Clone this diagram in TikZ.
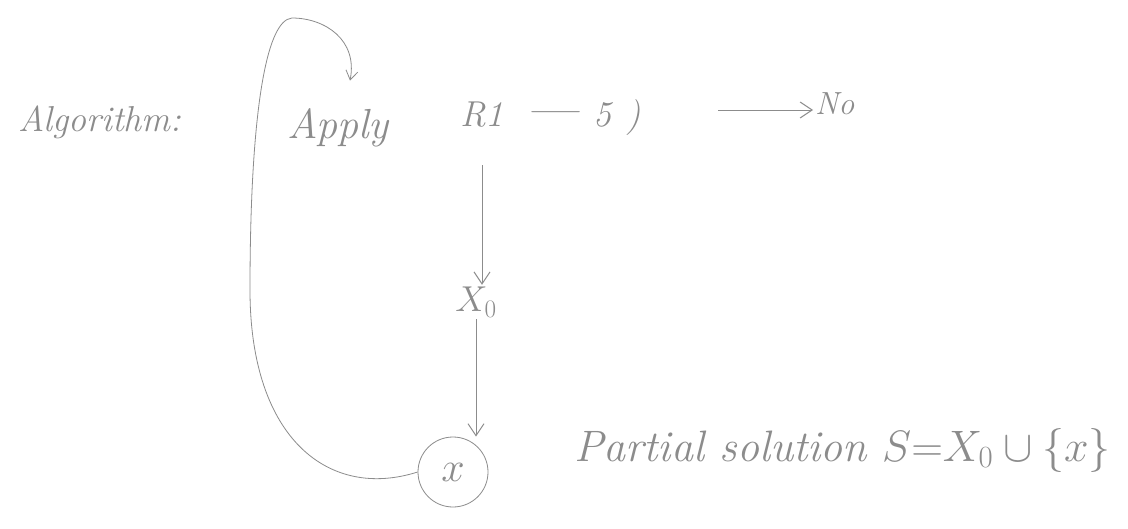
\RequirePackage{fix-cm}
\documentclass[tikz,border=0pt]{standalone}
\usetikzlibrary{arrows.meta,shapes.geometric}
\definecolor{pen}{gray}{0.55}
\begin{document}
\begin{tikzpicture}[x=1pt,y=-1pt,
  hand/.style={text=pen,font=\fontsize{36}{40}\selectfont\itshape,inner sep=2pt},
  conn/.style={draw=pen,line width=1pt,-{Straight Barb[length=12pt,width=16pt]}},
  loopline/.style={draw=pen,line width=0.8pt,-{Straight Barb[length=9pt,width=12pt]}}]
\useasboundingbox[fill=white] (0,0) rectangle (1128,528);
\node[hand] (alg) at (100,122) {Algorithm:};
\node[hand,font=\fontsize{42}{46}\selectfont\itshape] (apply) at (338,128) {Apply};
\node[hand,anchor=west] (r) at (458,118) {R1\hspace{0.6em}{\fontsize{54}{54}\selectfont---}\hspace{0.4em}5\hspace{0.4em})};
\node[hand,font=\fontsize{32}{36}\selectfont\itshape,anchor=west] (no) at (813,104) {No};
\node[hand] (x0) at (476,302) {$X_0$};
\node[hand,draw=pen,circle,line width=0.8pt,minimum size=70pt,inner sep=0pt,font=\fontsize{42}{46}\selectfont] (xc) at (453,472) {$x$};
\node[hand,font=\fontsize{44}{48}\selectfont\itshape,anchor=west] (ps) at (572,450) {Partial solution $S{=}X_0\cup\{x\}$};
\coordinate (rs) at (718,110);
\coordinate (rd) at (482,165);
\coordinate (l1) at (250,290);
\coordinate (l2) at (292,18);
\draw[conn] (rs) -- (no.west |- rs);
\draw[conn] (rd) -- (x0.north -| rd);
\draw[conn] (x0.south) -- (xc.north -| x0.south);
\draw[loopline] (xc.west) .. controls (330,500) and (250,440) .. (l1)
  .. controls (250,120) and (265,20) .. (l2)
  .. controls (325,18) and (358,40) .. ([xshift=12pt,yshift=26pt]apply.north);
\end{tikzpicture}
\end{document}
